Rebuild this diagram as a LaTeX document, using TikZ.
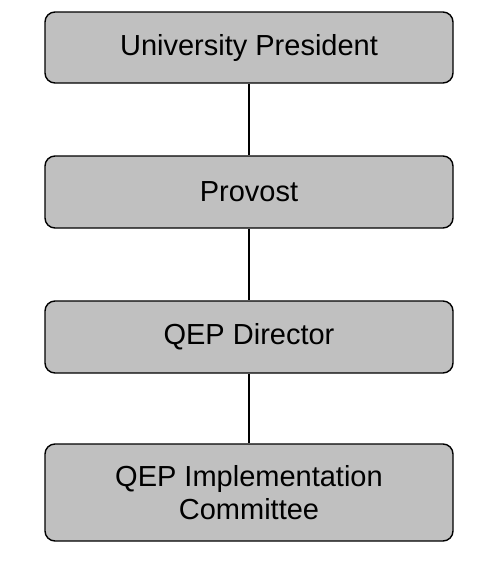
\documentclass[tikz,border=0pt]{standalone}
\usepackage{fontspec}
\setmainfont{Liberation Sans}
\definecolor{boxgray}{HTML}{C0C0C0}
\begin{document}
\begin{tikzpicture}[x=1pt,y=-1pt,
  orgbox/.style={draw=black, fill=boxgray, line width=1.4pt, rounded corners=10pt,
    minimum width=408pt, align=center, font=\fontsize{29}{33}\selectfont, inner sep=0pt},
  link/.style={draw=black, line width=1.4pt}]
\useasboundingbox (0,0) rectangle (494,566);
\node[orgbox, minimum height=71pt] (pres) at (249,47.5) {University President};
\node[orgbox, minimum height=72pt] (prov) at (249,192) {Provost};
\node[orgbox, minimum height=72pt] (dir) at (249,337) {QEP Director};
\node[orgbox, minimum height=97pt] (comm) at (249,492.5) {QEP Implementation\\Committee};
\draw[link] (pres.south) -- (prov.north);
\draw[link] (prov.south) -- (dir.north);
\draw[link] (dir.south) -- (comm.north);
\end{tikzpicture}
\end{document}
